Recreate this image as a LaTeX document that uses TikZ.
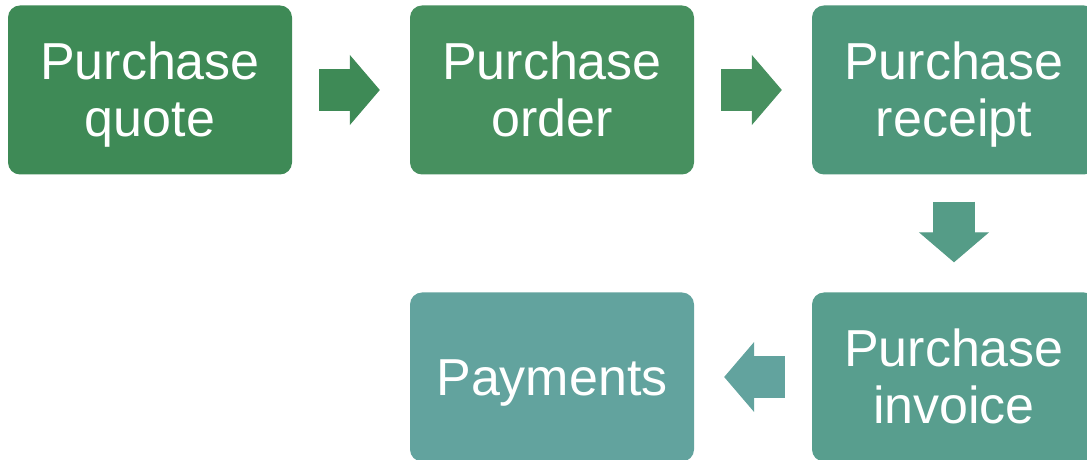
\documentclass[tikz,border=0pt]{standalone}
\usepackage{fontspec}
\setmainfont{Liberation Sans}
\usetikzlibrary{arrows.meta}
\definecolor{quotegreen}{HTML}{3E8A56}
\definecolor{ordergreen}{HTML}{47905F}
\definecolor{receiptgreen}{HTML}{4E977B}
\definecolor{downgreen}{HTML}{559C87}
\definecolor{invoicegreen}{HTML}{589E8E}
\definecolor{paygreen}{HTML}{62A39E}
\tikzset{
  stepbox/.style={rectangle, rounded corners=12pt, fill=#1, text=white,
    minimum width=284pt, minimum height=169pt, inner sep=0pt, align=center,
    font=\fontsize{52}{57}\selectfont, text height=94pt, text depth=0pt},
  onebox/.style={stepbox=#1, text height=37pt},
  blockarrow/.style={draw=#1, line width=42pt,
    -{Triangle[length=30pt,width=70pt,line width=1pt,fill=#1]},
    shorten <=27pt, shorten >=30pt}
}
\begin{document}
\begin{tikzpicture}[x=1pt,y=1pt]
				\useasboundingbox (0,0) rectangle (1087,460);
				\node[stepbox=quotegreen] (quote) at (150, 370) {Purchase\\quote};
				\node[stepbox=ordergreen] (order) at (552, 370) {Purchase\\order};
				\node[stepbox=receiptgreen] (receipt) at (954, 370) {Purchase\\receipt};
				\node[stepbox=invoicegreen] (invoice) at (954, 83) {Purchase\\invoice};
				\node[onebox=paygreen] (pay) at (552, 83) {Payments};
				\draw[blockarrow=quotegreen] (quote) -- (order);
				\draw[blockarrow=ordergreen] (order) -- (receipt);
				\draw[blockarrow=downgreen] (receipt) -- (invoice);
				\draw[blockarrow=paygreen] (invoice.west) -- (pay.east);
			\end{tikzpicture}
\end{document}
